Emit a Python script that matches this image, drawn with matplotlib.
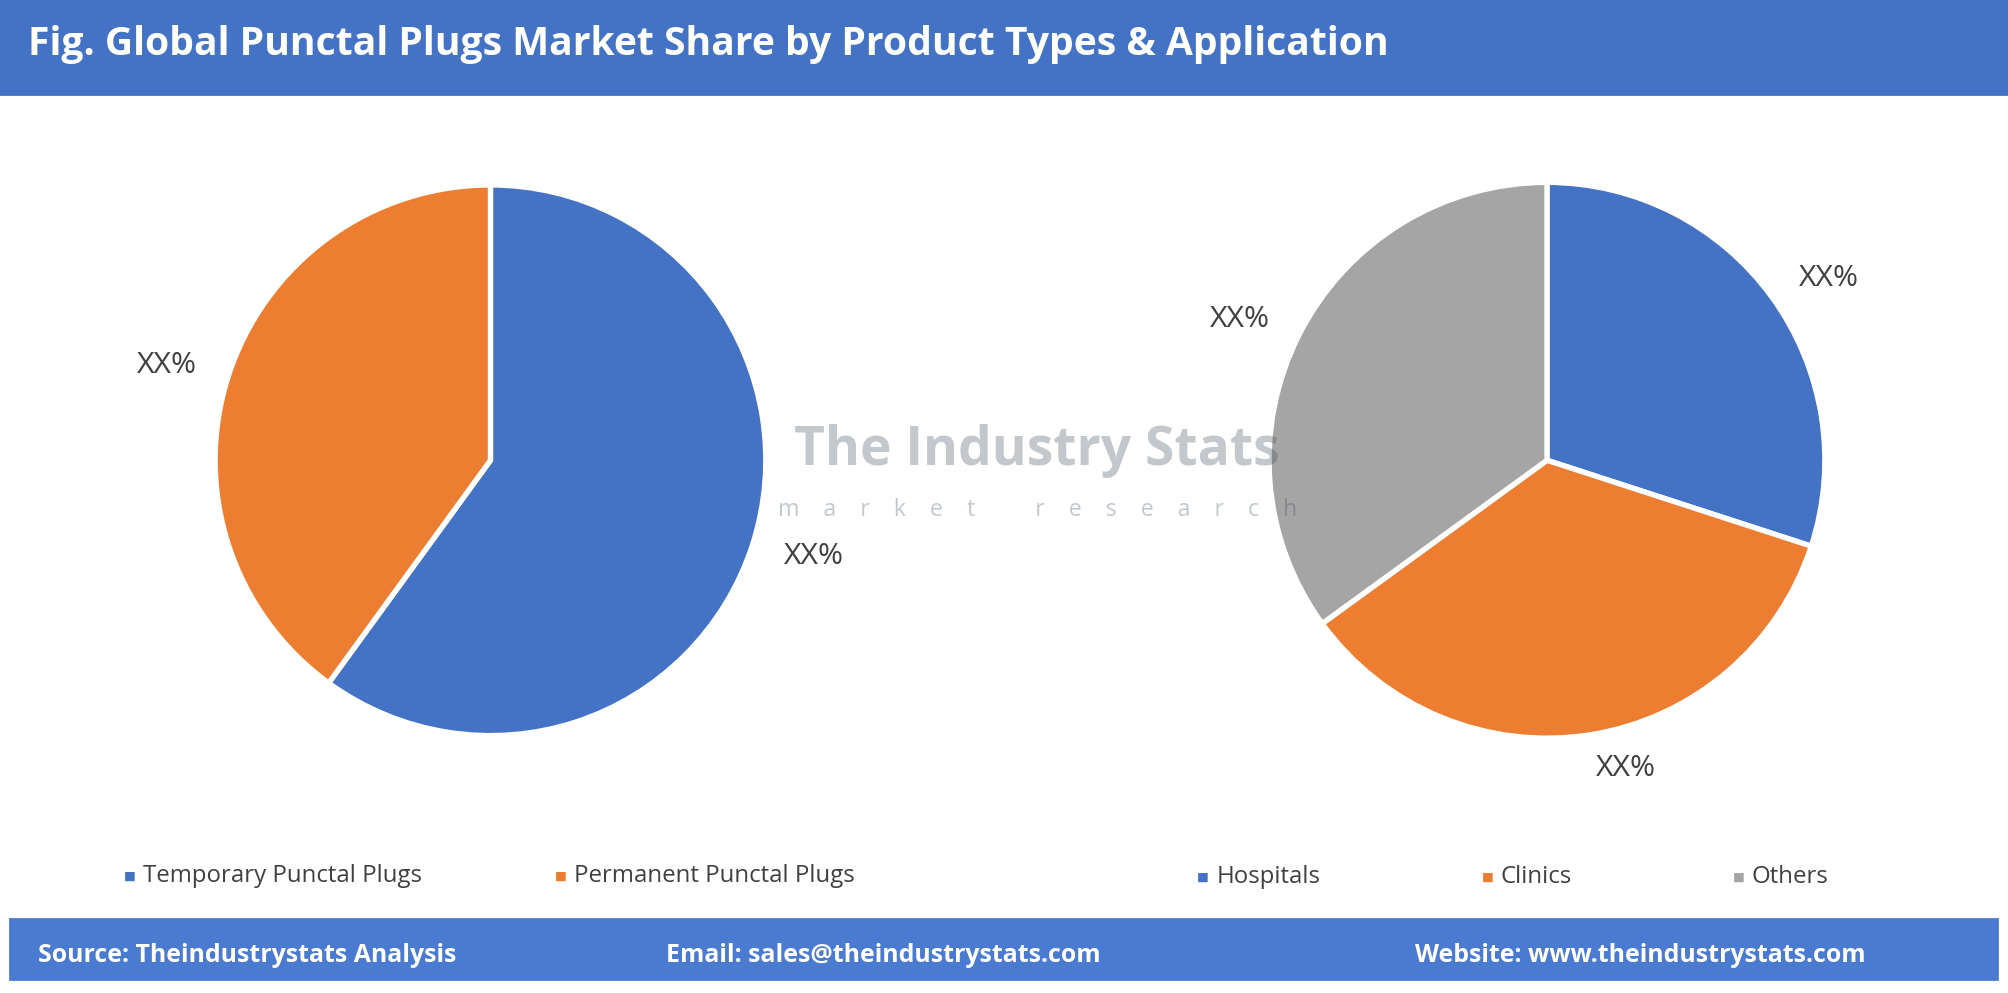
import matplotlib.pyplot as plt
from matplotlib.patches import Rectangle

plt.rcParams['font.family'] = ['Open Sans', 'DejaVu Sans']

left_labels = ['Temporary Punctal Plugs', 'Permanent Punctal Plugs']
left_values = [60, 40]
left_colors = ['#4472C4', '#ED7D31']

right_labels = ['Hospitals', 'Clinics', 'Others']
right_values = [30, 35, 35]
right_colors = ['#4472C4', '#ED7D31', '#A5A5A5']

# layout coordinates are in a 1568x776 space, saved at 2008x994
W, H = 1568, 776
fig = plt.figure(figsize=(W / 100, H / 100), dpi=100)
fig.patch.set_facecolor('white')

# header and footer bars
fig.add_artist(Rectangle((0, 1 - 75 / H), 1, 75 / H, transform=fig.transFigure, color='#4472C4'))
fig.text(22 / W, 1 - 35 / H, 'Fig. Global Punctal Plugs Market Share by Product Types & Application',
         color='white', fontsize=22, fontweight='bold', va='center')
fig.add_artist(Rectangle((8 / W, 1 - 766 / H), 1552 / W, 48 / H, transform=fig.transFigure, color='#4A7BD0'))
fy = 1 - 746 / H
fig.text(30 / W, fy, 'Source: Theindustrystats Analysis', color='white', fontsize=14, fontweight='bold', va='center')
fig.text(520 / W, fy, 'Email: sales@theindustrystats.com', color='white', fontsize=14, fontweight='bold', va='center')
fig.text(1105 / W, fy, 'Website: www.theindustrystats.com', color='white', fontsize=14, fontweight='bold', va='center')


def draw_pie(cx, cy, r, values, colors):
    h = r * 1.25  # pie() sets limits to +-1.25
    ax = fig.add_axes([(cx - h) / W, 1 - (cy + h) / H, 2 * h / W, 2 * h / H])
    ax.pie(values, colors=colors, startangle=90, counterclock=False,
           labels=['XX%'] * len(values), labeldistance=1.12,
           wedgeprops=dict(edgecolor='white', linewidth=3),
           textprops=dict(fontsize=17, color='#404040'))
    ax.set_aspect('equal')
    return ax


draw_pie(383, 360, 215, left_values, left_colors)
draw_pie(1208, 360, 217, right_values, right_colors)

# watermark
fig.text(810 / W, 1 - 352 / H, 'The Industry Stats', fontsize=30, fontweight='bold',
         color='#3a4a5a', alpha=0.3, ha='center', va='center')
fig.text(810 / W, 1 - 398 / H, 'm    a    r    k    e    t          r    e    s    e    a    r    c    h',
         fontsize=13, color='#3a4a5a', alpha=0.3, ha='center', va='center')

# legends
ly = 1 - 684 / H
for lab, col, x in zip(left_labels, left_colors, [97, 433]):
    fig.text(x / W, ly, '\u25A0', color=col, fontsize=7, va='center')
    fig.text((x + 15) / W, ly, lab, color='#404040', fontsize=13.5, va='center')
ly = 1 - 685 / H
for lab, col, x in zip(right_labels, right_colors, [935, 1157, 1353]):
    fig.text(x / W, ly, '\u25A0', color=col, fontsize=7, va='center')
    fig.text((x + 15) / W, ly, lab, color='#404040', fontsize=13.5, va='center')

fig.savefig('out.png', dpi=2008 / 15.68)
